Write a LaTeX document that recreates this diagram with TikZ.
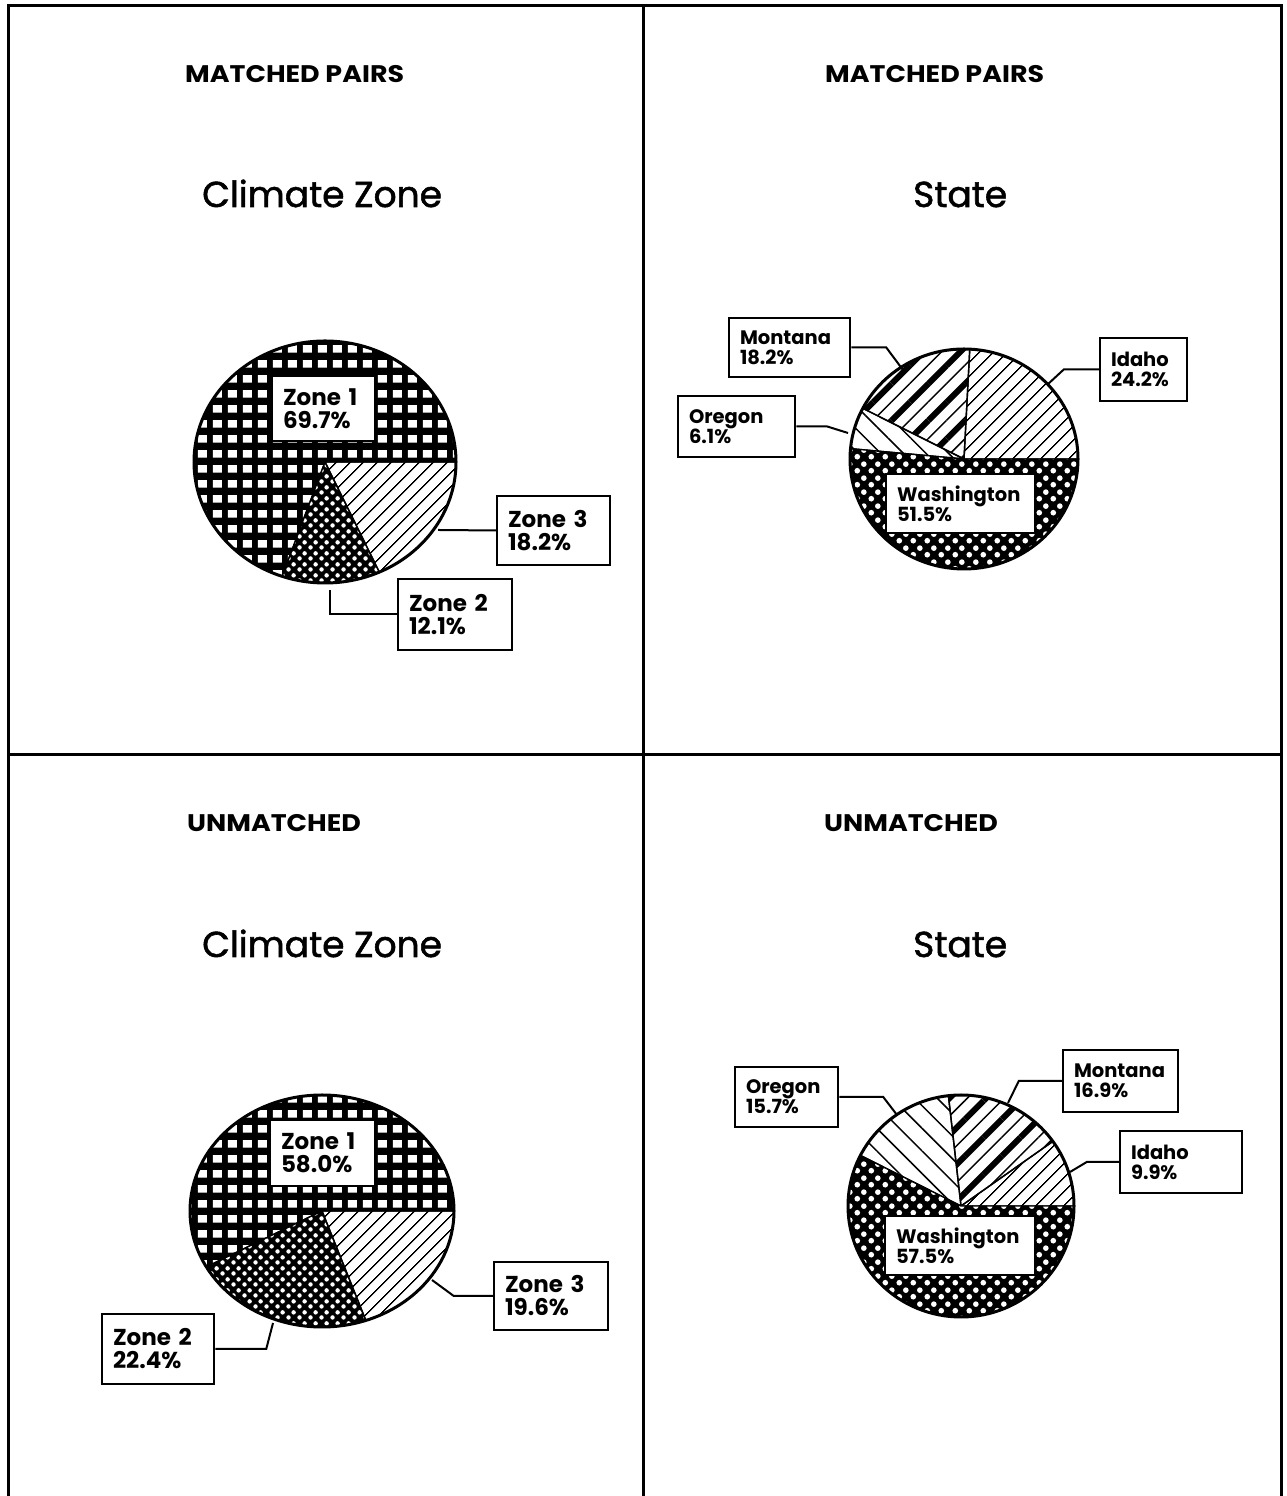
\documentclass[tikz,border=0pt]{standalone}
\usepackage{fontspec}
\setmainfont{Poppins}
\newfontfamily\headfont[FakeStretch=1.12]{Poppins}
\newfontfamily\titlefont[FakeBold=1.5]{Poppins}
\usepackage{tikz}
\usetikzlibrary{patterns,patterns.meta}

% fills of the pie slices
\pgfdeclarepatternformonly{blockholes}{\pgfqpoint{0pt}{0pt}}{\pgfqpoint{15pt}{15pt}}{\pgfqpoint{15pt}{15pt}}{%
  \pgfpathrectangle{\pgfqpoint{3pt}{3.5pt}}{\pgfqpoint{9.5pt}{8pt}}%
  \pgfusepath{fill}}
\pgfdeclarepatternformonly{holedots}{\pgfqpoint{0pt}{0pt}}{\pgfqpoint{11pt}{11pt}}{\pgfqpoint{11pt}{11pt}}{%
  \pgfpathcircle{\pgfqpoint{2.75pt}{2.75pt}}{2.4pt}%
  \pgfpathcircle{\pgfqpoint{8.25pt}{8.25pt}}{2.4pt}%
  \pgfusepath{fill}}
\pgfdeclarepatternformonly{bigholedots}{\pgfqpoint{0pt}{0pt}}{\pgfqpoint{14pt}{14pt}}{\pgfqpoint{14pt}{14pt}}{%
  \pgfpathcircle{\pgfqpoint{3.5pt}{3.5pt}}{3pt}%
  \pgfpathcircle{\pgfqpoint{10.5pt}{10.5pt}}{3pt}%
  \pgfusepath{fill}}

\tikzstyle{frame} = [line width=3pt]
\tikzstyle{heading} = [anchor=base west, inner sep=0pt, font=\headfont\bfseries\fontsize{24}{26}\selectfont]
\tikzstyle{charttitle} = [anchor=base west, inner sep=0pt, font=\titlefont\fontsize{36}{40}\selectfont]
\tikzstyle{zonebox} = [draw, line width=2.5pt, fill=white, align=left, inner xsep=11pt, inner ysep=4pt, font=\bfseries\fontsize{23}{23}\selectfont]
\tikzstyle{statebox} = [zonebox, font=\bfseries\fontsize{19.5}{20}\selectfont]
\tikzstyle{leader} = [line width=2pt]
\tikzstyle{rim} = [line width=3pt]
\tikzstyle{wedge} = [line width=1.4pt]
\tikzstyle{blocks} = [preaction={fill=black}, pattern=blockholes, pattern color=white]
\tikzstyle{holes} = [preaction={fill=black}, pattern=holedots, pattern color=white]
\tikzstyle{bigholes} = [preaction={fill=black}, pattern=bigholedots, pattern color=white]
\tikzstyle{hatch} = [pattern={Lines[angle=45,distance=10.5pt,line width=1.6pt]}]
\tikzstyle{boldhatch} = [preaction={pattern={Lines[angle=45,distance=26pt,line width=6pt]}}, pattern={Lines[angle=45,distance=26pt,line width=1.5pt,xshift=18pt]}]
\tikzstyle{backhatch} = [pattern={Lines[angle=-45,distance=16pt,line width=1.5pt]}]

\newcommand{\wedgepart}[6]{\draw[wedge,#6] (#1) -- ++(#2:#4 and #5) arc[start angle=#2, end angle=#3, x radius=#4, y radius=#5] -- cycle;}

\begin{document}
\begin{tikzpicture}[x=1pt,y=1pt]
\useasboundingbox (0,0) rectangle (1287,1496);

%Frame
\draw[frame] (8,0) -- (8,1490) -- (1281,1490) -- (1281,0);
\draw[frame] (643,0) -- (643,1490);
\draw[frame] (8,741) -- (1281,741);

%Titles
\node[heading] (mp1) at (185,1413) {MATCHED PAIRS};
\node[charttitle] (cz1) at (202,1289) {Climate Zone};
\node[heading] (mp2) at (825,1413) {MATCHED PAIRS};
\node[charttitle] (st1) at (913,1289) {State};
\node[heading] (um1) at (187,664) {UNMATCHED};
\node[charttitle] (cz2) at (202,539) {Climate Zone};
\node[heading] (um2) at (824,664) {UNMATCHED};
\node[charttitle] (st2) at (913,539) {State};

%Pies
\coordinate (p1) at (325,1034);
\wedgepart{p1}{0}{250.9}{131}{121}{blocks}
\wedgepart{p1}{250.9}{294.5}{131}{121}{holes}
\wedgepart{p1}{294.5}{360}{131}{121}{hatch}
\draw[rim] (p1) ellipse [x radius=131, y radius=121];

\coordinate (p2) at (964,1037);
\wedgepart{p2}{0}{87.1}{114}{110}{hatch}
\wedgepart{p2}{87.1}{152.6}{114}{110}{boldhatch}
\wedgepart{p2}{152.6}{174.6}{114}{110}{backhatch}
\wedgepart{p2}{174.6}{360}{114}{110}{bigholes}
\draw[rim] (p2) ellipse [x radius=114, y radius=110];

\coordinate (p3) at (322,285);
\wedgepart{p3}{0}{208.8}{132}{116}{blocks}
\wedgepart{p3}{208.8}{289.4}{132}{116}{holes}
\wedgepart{p3}{289.4}{360}{132}{116}{hatch}
\draw[rim] (p3) ellipse [x radius=132, y radius=116];

\coordinate (p4) at (961,290);
\wedgepart{p4}{0}{35.6}{113}{111}{hatch}
\wedgepart{p4}{35.6}{96.4}{113}{111}{boldhatch}
\wedgepart{p4}{96.4}{152.9}{113}{111}{backhatch}
\wedgepart{p4}{152.9}{360}{113}{111}{bigholes}
\draw[rim] (p4) ellipse [x radius=113, y radius=111];

%Leader ends
\coordinate (z3e) at (438,966);
\coordinate (z2e) at (330,906);
\coordinate (mte) at (903,1126);
\coordinate (ore) at (848,1063);
\coordinate (ide) at (1047,1111);
\coordinate (z3f) at (432,216);
\coordinate (z2f) at (273,173);
\coordinate (orf) at (897,381);
\coordinate (mtf) at (1008,393);
\coordinate (idf) at (1070,324);

%Labels
\node[zonebox, text width=81pt, minimum height=65pt] (z1a) at (323.5,1087.5) {Zone 1\\69.7\%};
\node[zonebox, text width=91pt, minimum height=69pt] (z3a) at (553.5,965.5) {Zone 3\\18.2\%};
\node[zonebox, text width=92pt, minimum height=71pt] (z2a) at (455,881.5) {Zone 2\\12.1\%};
\node[statebox, text width=99pt, minimum height=59pt] (mta) at (789.5,1148.5) {Montana\\18.2\%};
\node[statebox, text width=95pt, minimum height=61pt] (ora) at (736.5,1069.5) {Oregon\\6.1\%};
\node[statebox, text width=65pt, minimum height=63pt] (ida) at (1143.5,1126.5) {Idaho\\24.2\%};
\node[statebox, text width=127pt, minimum height=59pt] (wa1) at (960.5,992.5) {Washington\\51.5\%};
\node[zonebox, text width=83pt, minimum height=66pt] (z1b) at (322.5,343) {Zone 1\\58.0\%};
\node[zonebox, text width=92pt, minimum height=68pt] (z3b) at (551,200) {Zone 3\\19.6\%};
\node[zonebox, text width=90pt, minimum height=70pt] (z2b) at (158,147) {Zone 2\\22.4\%};
\node[statebox, text width=81pt, minimum height=60pt] (orb) at (786.5,399) {Oregon\\15.7\%};
\node[statebox, text width=93pt, minimum height=62pt] (mtb) at (1120.5,415) {Montana\\16.9\%};
\node[statebox, text width=100pt, minimum height=62pt] (idb) at (1181,334) {Idaho\\9.9\%};
\node[statebox, text width=128pt, minimum height=59pt] (wa2) at (960,250.5) {Washington\\57.5\%};

%Lines
\draw[leader] (z3a.west) -- (z3e);
\draw[leader] (z2a.west) -| (z2e);
\draw[leader] (mta.east) -- ++(35,0) -- (mte);
\draw[leader] (ora.east) -- ++(31,0) -- (ore);
\draw[leader] (ida.west) -- ++(-35,0) -- (ide);
\draw[leader] (z3b.west) -- ++(-39,0) -- (z3f);
\draw[leader] (z2b.east) -- ++(51,0) -- (z2f);
\draw[leader] (orb.east) -- ++(44,0) -- (orf);
\draw[leader] (mtb.west) -- ++(-43,0) -- (mtf);
\draw[leader] (idb.west) -- ++(-32,0) -- (idf);
\end{tikzpicture}
\end{document}
